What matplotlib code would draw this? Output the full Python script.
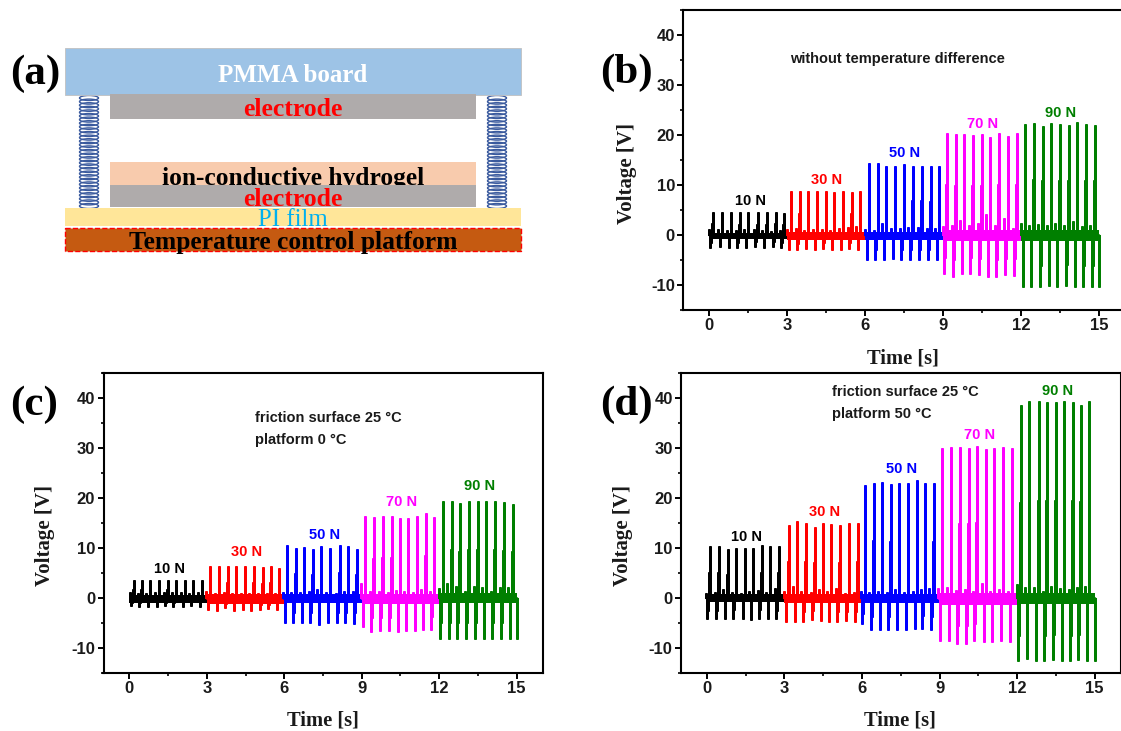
import numpy as np
import matplotlib
matplotlib.use('Agg')
import matplotlib.pyplot as plt
from matplotlib.patches import Rectangle, Ellipse
from matplotlib.ticker import MultipleLocator

plt.rcParams['axes.unicode_minus'] = False

W, H = 1121, 731

forces = ['10 N', '30 N', '50 N', '70 N', '90 N']
colors = ['#000000', '#ff0000', '#0000ff', '#ff00ff', '#007f00']
burst_edges = [0, 3, 6, 9, 12, 15]

# panel b, one row per force
b_peak_t = [[0.14, 0.50, 0.85, 1.18, 1.50, 1.86, 2.20, 2.55, 2.87],
            [3.15, 3.48, 3.81, 4.15, 4.49, 4.81, 5.16, 5.48, 5.80],
            [6.15, 6.49, 6.81, 7.15, 7.49, 7.82, 8.18, 8.52, 8.85],
            [9.14, 9.48, 9.80, 10.13, 10.48, 10.81, 11.13, 11.49, 11.83],
            [12.15, 12.47, 12.82, 13.15, 13.47, 13.82, 14.15, 14.48, 14.82]]
b_peak_v = [[4.7, 4.7, 4.6, 4.6, 4.6, 4.6, 4.6, 4.7, 4.5],
            [8.9, 8.9, 8.9, 8.8, 8.8, 8.7, 8.8, 8.7, 8.8],
            [14.5, 14.5, 13.8, 13.9, 14.3, 13.9, 13.9, 13.8, 13.9],
            [20.5, 20.2, 20.2, 20.0, 20.2, 19.7, 20.5, 19.8, 20.4],
            [22.2, 22.5, 21.9, 22.5, 22.2, 22.0, 22.6, 22.2, 22.0]]
b_trough_v = [[-2.5, -2.4, -2.5, -2.5, -2.5, -2.4, -2.5, -2.4, -2.5],
              [-2.9, -2.9, -2.8, -2.9, -2.8, -2.9, -2.9, -2.8, -2.9],
              [-5.0, -5.0, -5.0, -4.8, -5.0, -5.0, -4.9, -5.0, -5.0],
              [-7.8, -8.3, -7.8, -7.8, -7.9, -8.3, -8.3, -8.0, -8.1],
              [-10.3, -10.4, -10.3, -10.2, -10.3, -10.1, -10.3, -10.4, -10.4]]
b_bump_v = [[1.3, 1.2, 1.0, 1.0, 1.2, 1.3, 1.0, 0.9, 1.0],
            [1.2, 1.4, 1.0, 1.3, 1.2, 1.0, 1.5, 1.6, 1.8],
            [1.2, 1.0, 2.5, 1.5, 1.5, 1.7, 1.6, 1.5, 1.5],
            [1.8, 2.1, 3.0, 2.0, 2.5, 4.2, 2.1, 3.5, 1.5],
            [2.5, 2.0, 2.2, 2.0, 2.5, 2.0, 2.8, 1.8, 2.1]]
b_band = [(0.5, -0.8), (0.7, -0.9), (0.6, -1.0), (1.0, -1.1), (1.0, -1.1)]
b_last_trough = -10.4

# panel c
c_peak_t = [[0.17, 0.49, 0.81, 1.16, 1.49, 1.81, 2.16, 2.48, 2.83],
            [3.14, 3.48, 3.82, 4.15, 4.49, 4.81, 5.16, 5.48, 5.81],
            [6.11, 6.44, 6.78, 7.11, 7.43, 7.79, 8.15, 8.47, 8.81],
            [9.13, 9.47, 9.81, 10.16, 10.49, 10.81, 11.15, 11.47, 11.80],
            [12.15, 12.48, 12.80, 13.15, 13.49, 13.82, 14.15, 14.50, 14.84]]
c_peak_v = [[3.7, 3.7, 3.6, 3.7, 3.6, 3.7, 3.6, 3.6, 3.6],
            [6.5, 6.5, 6.5, 6.5, 6.5, 6.4, 6.2, 6.5, 6.0],
            [10.6, 10.0, 10.2, 9.8, 10.4, 10.0, 10.6, 10.4, 9.8],
            [16.5, 16.2, 16.4, 16.4, 16.1, 16.1, 16.4, 17.1, 16.3],
            [19.5, 19.5, 19.0, 19.5, 19.5, 19.5, 19.5, 19.3, 18.9]]
c_trough_v = [[-1.6, -1.7, -1.7, -1.7, -1.6, -1.7, -1.7, -1.6, -1.7],
              [-2.3, -2.5, -2.0, -2.5, -2.3, -2.5, -2.4, -2.2, -2.3],
              [-5.0, -5.0, -5.0, -5.0, -5.3, -5.0, -5.0, -5.0, -5.1],
              [-5.8, -6.7, -6.6, -6.6, -6.7, -6.5, -6.6, -6.3, -6.4],
              [-8.2, -8.2, -8.2, -8.2, -8.2, -8.2, -8.2, -8.2, -8.2]]
c_bump_v = [[1.2, 1.1, 1.0, 1.3, 1.2, 1.2, 1.2, 1.0, 1.2],
            [1.5, 1.0, 1.2, 1.0, 1.0, 1.1, 1.0, 1.0, 1.0],
            [1.2, 1.2, 1.2, 1.5, 1.8, 1.2, 1.0, 1.5, 1.5],
            [3.0, 1.5, 1.5, 1.3, 1.6, 1.4, 1.2, 1.8, 1.5],
            [2.0, 3.0, 2.5, 1.5, 2.5, 2.2, 1.5, 2.2, 2.2]]
c_band = [(0.6, -1.0), (0.8, -1.1), (0.9, -1.0), (0.9, -1.1), (1.0, -1.0)]
c_last_trough = -8.2

# panel d
d_peak_t = [[0.11, 0.47, 0.80, 1.13, 1.48, 1.80, 2.13, 2.46, 2.79],
            [3.16, 3.50, 3.82, 4.18, 4.50, 4.82, 5.15, 5.50, 5.84],
            [6.12, 6.45, 6.79, 7.12, 7.45, 7.79, 8.14, 8.44, 8.77],
            [9.11, 9.46, 9.79, 10.13, 10.45, 10.81, 11.12, 11.47, 11.82],
            [12.15, 12.48, 12.83, 13.15, 13.49, 13.83, 14.16, 14.46, 14.79]]
d_peak_v = [[10.5, 10.5, 9.8, 10.0, 10.1, 10.0, 10.6, 10.4, 10.5],
            [14.7, 15.5, 15.0, 14.3, 15.0, 14.9, 14.6, 15.0, 15.0],
            [22.7, 23.1, 23.3, 22.8, 23.0, 23.0, 23.7, 23.0, 23.0],
            [30.1, 30.2, 30.2, 30.1, 30.5, 29.9, 30.0, 30.3, 30.1],
            [38.6, 39.4, 39.4, 39.3, 39.3, 39.4, 39.3, 38.7, 39.4]]
d_trough_v = [[-4.2, -4.2, -4.2, -4.1, -4.2, -4.3, -4.1, -4.1, -4.2],
              [-4.7, -4.7, -4.8, -4.4, -4.6, -4.8, -4.8, -4.5, -4.7],
              [-5.2, -6.3, -6.3, -6.3, -6.3, -6.3, -6.2, -6.1, -6.3],
              [-8.6, -8.6, -9.2, -9.2, -8.6, -8.7, -8.8, -8.6, -8.7],
              [-12.5, -12.2, -12.5, -12.5, -12.4, -12.5, -12.5, -12.4, -12.5]]
d_bump_v = [[1.0, 1.2, 1.8, 1.3, 1.0, 1.5, 1.6, 1.2, 2.0],
            [1.5, 2.5, 1.5, 1.2, 1.8, 1.5, 2.0, 1.0, 1.2],
            [1.5, 1.2, 1.5, 1.2, 1.8, 1.2, 1.5, 1.8, 2.0],
            [2.0, 2.2, 1.6, 1.8, 1.5, 3.0, 1.5, 1.8, 1.5],
            [2.8, 2.2, 2.2, 1.5, 2.4, 2.0, 1.8, 2.2, 2.5]]
d_band = [(0.8, -0.7), (0.9, -1.0), (0.8, -1.0), (1.0, -1.3), (1.0, -1.2)]
d_last_trough = -12.5

b_label_xy = [(1.57, 6.8), (4.5, 11.0), (7.5, 16.4), (10.5, 22.2), (13.5, 24.4)]
c_label_xy = [(1.57, 5.8), (4.55, 9.2), (7.55, 12.6), (10.55, 19.2), (13.55, 22.4)]
d_label_xy = [(1.55, 12.2), (4.55, 17.2), (7.55, 25.8), (10.55, 32.6), (13.55, 41.4)]

sans = 'Liberation Sans'
serif = 'Liberation Serif'
trough_lag = 0.1
bump_lag = 0.16


def px_axes(left, top, right, bottom):
    ax = fig.add_axes([left / W, 1 - bottom / H, (right - left) / W, (bottom - top) / H])
    ax.set_facecolor('none')
    return ax


def draw_panel(ax, peak_t, peak_v, trough_v, bump_v, band, last_trough, label_xy):
    for i in range(5):
        col = colors[i]
        ax.fill_between(burst_edges[i:i + 2], band[i][1], band[i][0], color=col, lw=0, zorder=2 + i)
        xs, ys = [], []
        for t, p, tr, bu in zip(peak_t[i], peak_v[i], trough_v[i], bump_v[i]):
            xs += [t - bump_lag] * 3 + [t - trough_lag] * 3 + [t - trough_lag + 0.02] * 3
            ys += [0, bu, 0, 0, tr, 0, 0, 0.6 * tr, 0]
            xs += [t - 0.02] * 3 + [t] * 3
            ys += [0, 0.5 * p, 0, 0, p, 0]
        if i == 4:
            xs += [burst_edges[-1]] * 3
            ys += [0, last_trough, 0]
        ax.plot(xs, ys, color=col, lw=1.9, solid_joinstyle='bevel', solid_capstyle='butt', zorder=2 + i)
        ax.text(label_xy[i][0], label_xy[i][1], forces[i], color=col, fontsize=10.5,
                fontweight='bold', family=sans, ha='center', va='center')
    ax.set_xlim(-1, 16)
    ax.set_ylim(-15, 45)
    ax.xaxis.set_major_locator(MultipleLocator(3))
    ax.xaxis.set_minor_locator(MultipleLocator(1.5))
    ax.yaxis.set_major_locator(MultipleLocator(10))
    ax.yaxis.set_minor_locator(MultipleLocator(5))
    ax.tick_params(which='major', length=4, width=1.4, pad=2, labelsize=12)
    ax.tick_params(which='minor', length=2.2, width=1.2)
    for lab in ax.get_xticklabels() + ax.get_yticklabels():
        lab.set_family(sans)
        lab.set_fontweight('bold')
        lab.set_color('#1a1a1a')
    for s in ax.spines.values():
        s.set_linewidth(1.5)


fig = plt.figure(figsize=(W / 100, H / 100), dpi=100)

# schematic (a), drawn in pixel units of the figure
bg = fig.add_axes([0, 0, 1, 1])
bg.set_xlim(0, W)
bg.set_ylim(H, 0)
bg.axis('off')


def box(x0, y0, x1, y1, col, z=1, **kw):
    bg.add_patch(Rectangle((x0, y0), x1 - x0, y1 - y0, facecolor=col, zorder=z, **kw))


for sx in (89, 497):
    for sy in np.arange(98, 207, 3.6):
        bg.add_patch(Ellipse((sx, sy), 19, 5, fill=False, edgecolor='#3a5a9e', lw=1.0, zorder=1))

box(65, 48, 521, 95, '#9dc3e6', z=2, edgecolor='#c0c0c0', lw=0.6)
box(110, 94, 476, 119, '#afabab', z=3)
box(110, 162, 476, 185, '#f8cbad', z=3)
bg.text(293, 179, 'ion-conductive hydrogel', color='black', fontsize=18.4, fontweight='bold',
        family=serif, ha='center', va='center', zorder=4)
box(110, 184.5, 476, 207, '#afabab', z=5)
bg.text(293, 220, 'PI film', color='#00b0f0', fontsize=17.8, family=serif, ha='center', va='center', zorder=7)
box(65, 207.5, 521, 226, '#ffe699', z=6)
box(65, 226, 521, 228, 'white', z=8)
box(65, 228, 521, 251, '#c55a11', z=9, edgecolor='#ff0000', lw=1.0, ls='--')
bg.text(293, 75, 'PMMA board', color='white', fontsize=18, fontweight='bold', family=serif,
        ha='center', va='center', zorder=10)
bg.text(293, 109, 'electrode', color='#ff0000', fontsize=18.5, fontweight='bold', family=serif,
        ha='center', va='center', zorder=10)
bg.text(293, 199, 'electrode', color='#ff0000', fontsize=18.5, fontweight='bold', family=serif,
        ha='center', va='center', zorder=10)
bg.text(293, 243, 'Temperature control platform', color='black', fontsize=18.4, fontweight='bold',
        family=serif, ha='center', va='center', zorder=10)

axb = px_axes(683.3, 10, 1125.3, 310)
axc = px_axes(103.5, 373, 542.5, 673)
axd = px_axes(681, 373, 1120.5, 673)
draw_panel(axb, b_peak_t, b_peak_v, b_trough_v, b_bump_v, b_band, b_last_trough, b_label_xy)
draw_panel(axc, c_peak_t, c_peak_v, c_trough_v, c_bump_v, c_band, c_last_trough, c_label_xy)
draw_panel(axd, d_peak_t, d_peak_v, d_trough_v, d_bump_v, d_band, d_last_trough, d_label_xy)

note = dict(fontsize=10.5, fontweight='bold', family=sans, color='#1a1a1a', va='center', zorder=10)
bg.text(790, 59, 'without temperature difference', **note)
bg.text(255, 418, 'friction surface 25 °C', **note)
bg.text(255, 440, 'platform 0 °C', **note)
bg.text(832, 392, 'friction surface 25 °C', **note)
bg.text(832, 414, 'platform 50 °C', **note)

for x, y in [(627, 173), (45, 536), (623, 536)]:
    bg.text(x, y, 'Voltage [V]', rotation=90, fontsize=15, fontweight='bold', family=serif,
            ha='center', va='center', color='#1a1a1a')
for x, y in [(903, 358), (323, 721), (900, 721)]:
    bg.text(x, y, 'Time [s]', fontsize=14.8, fontweight='bold', family=serif,
            ha='center', va='center', color='#1a1a1a')

for x, y, s in [(10, 74, '(a)'), (600, 73, '(b)'), (10, 405, '(c)'), (600, 405, '(d)')]:
    bg.text(x, y, s, fontsize=31, fontweight='bold', family=serif, ha='left', va='center', color='black', zorder=11)

fig.savefig('out.png', dpi=100)
